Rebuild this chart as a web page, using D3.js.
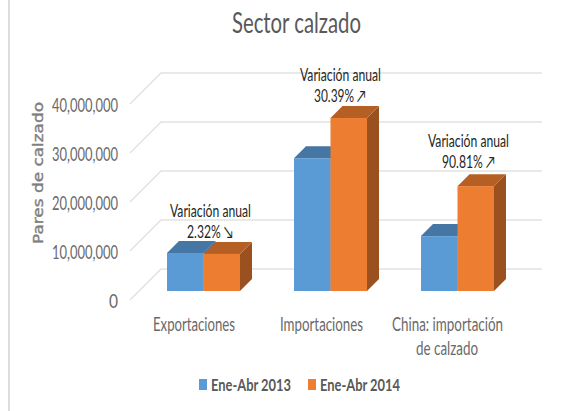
<!DOCTYPE html>
<html><head><meta charset="utf-8">
<script src="https://cdn.jsdelivr.net/npm/d3@7/dist/d3.min.js"></script>
<style>html,body{margin:0;padding:0;background:#fff;overflow:hidden}svg{display:block}</style>
</head><body><svg id="c" width="569" height="411"></svg>
<script>
const categories = ["Exportaciones","Importaciones","China: importación de calzado"];
const seriesNames = ["Ene-Abr 2013","Ene-Abr 2014"];
const values2013 = [7750000,27100000,11200000];
const values2014 = [7570000,35300000,21400000];
const annotationTitle = "Variación anual";
const annotationValues = ["2.32% ↘","30.39% ↗","90.81% ↗"];
const yTicks = [0,10000000,20000000,30000000,40000000];

const FONT = "Lato,'Liberation Sans',sans-serif";
const colors = [{f:"#5b9bd5",t:"#4676a3",s:"#3f6a93"},{f:"#ed7d31",t:"#b55f25",s:"#9a511f"}];
const svg = d3.select("#c");

function label(x,y,t,size,fill,len,opt={}){
  return svg.append("text").attr("x",x).attr("y",y).attr("text-anchor",opt.anchor||"middle")
    .attr("font-family",opt.family||FONT).attr("font-size",size).attr("font-weight",opt.weight||"normal")
    .attr("fill",fill).attr("textLength",len).attr("lengthAdjust","spacingAndGlyphs").text(t);
}

svg.append("line").attr("x1",9).attr("x2",9).attr("y1",0).attr("y2",411).attr("stroke","#dcdcdc").attr("stroke-width",2);

const y = d3.scaleLinear().domain([0,40000000]).range([269,73]);  // back wall
const back = {x0:161,x1:542}, depth=31;
const fmt = d3.format(",");

yTicks.forEach(v=>{
  svg.append("path").attr("d",`M${back.x0-depth},${y(v)+depth}L${back.x0},${y(v)}L${back.x1},${y(v)}`)
   .attr("fill","none").attr("stroke","#e2e2e2").attr("stroke-width",1.5);
  label(118,y(v)+depth+8,fmt(v),19.5,"#6a6a6a",v===0?9:66,{anchor:"end"});
});

const xc = d3.scaleBand().domain([0,1,2]).range([140,521]);
const barW = 36.5, barDepth = 12, base = 291, unit = y(0)-y(1);
const h = v => v*unit;
const center = i => xc(i)+xc.bandwidth()/2;
const seriesVals = [values2013,values2014];

[0,1].forEach(s=>seriesVals[s].forEach((v,i)=>{
  const x0 = center(i)+(s-1)*barW, x1=x0+barW, top=base-h(v), c=colors[s];
  svg.append("path").attr("d",`M${x1},${top}L${x1+barDepth},${top-barDepth}L${x1+barDepth},${base-barDepth}L${x1},${base}Z`).attr("fill",c.s);
  svg.append("path").attr("d",`M${x0},${top}L${x0+barDepth},${top-barDepth}L${x1+barDepth},${top-barDepth}L${x1},${top}Z`).attr("fill",c.t);
}));
[0,1].forEach(s=>seriesVals[s].forEach((v,i)=>{
  const x0 = center(i)+(s-1)*barW, top=base-h(v);
  svg.append("rect").attr("x",x0).attr("y",top).attr("width",barW).attr("height",h(v)).attr("fill",colors[s].f);
}));

// category labels
label(194,331,categories[0],18.5,"#6a6a6a",82);
label(321.5,331,categories[1],18.5,"#6a6a6a",83);
label(447.5,331,"China: importación",18.5,"#6a6a6a",111);
label(447,355,"de calzado",18.5,"#6a6a6a",62);

// annotations
[[210.5,217,210,238,46],[340.5,81,340,102,52],[468.5,147,468.5,168,53]].forEach((p,i)=>{
  label(p[0],p[1],annotationTitle,17,"#262626",81);
  label(p[2],p[3],annotationValues[i],17,"#262626",p[4]);
});

label(296.5,33,"Sector calzado",29,"#595959",129);

svg.append("g").attr("transform","translate(43,173) rotate(-90)").call(g=>{
  g.append("text").attr("text-anchor","middle").attr("font-family","'DejaVu Sans',sans-serif")
   .attr("font-size",14.5).attr("fill","#7f7f7f").attr("stroke","#7f7f7f").attr("stroke-width",0.4)
   .attr("textLength",142).attr("lengthAdjust","spacingAndGlyphs").text("Pares de calzado");
});

const lx=[199,308];
seriesNames.forEach((n,i)=>{
  svg.append("rect").attr("x",lx[i]).attr("y",379).attr("width",8).attr("height",11).attr("fill",colors[i].f);
  label(lx[i]+12,391,n,17,"#595959",80,{anchor:"start",weight:"bold"});
});
</script></body></html>
